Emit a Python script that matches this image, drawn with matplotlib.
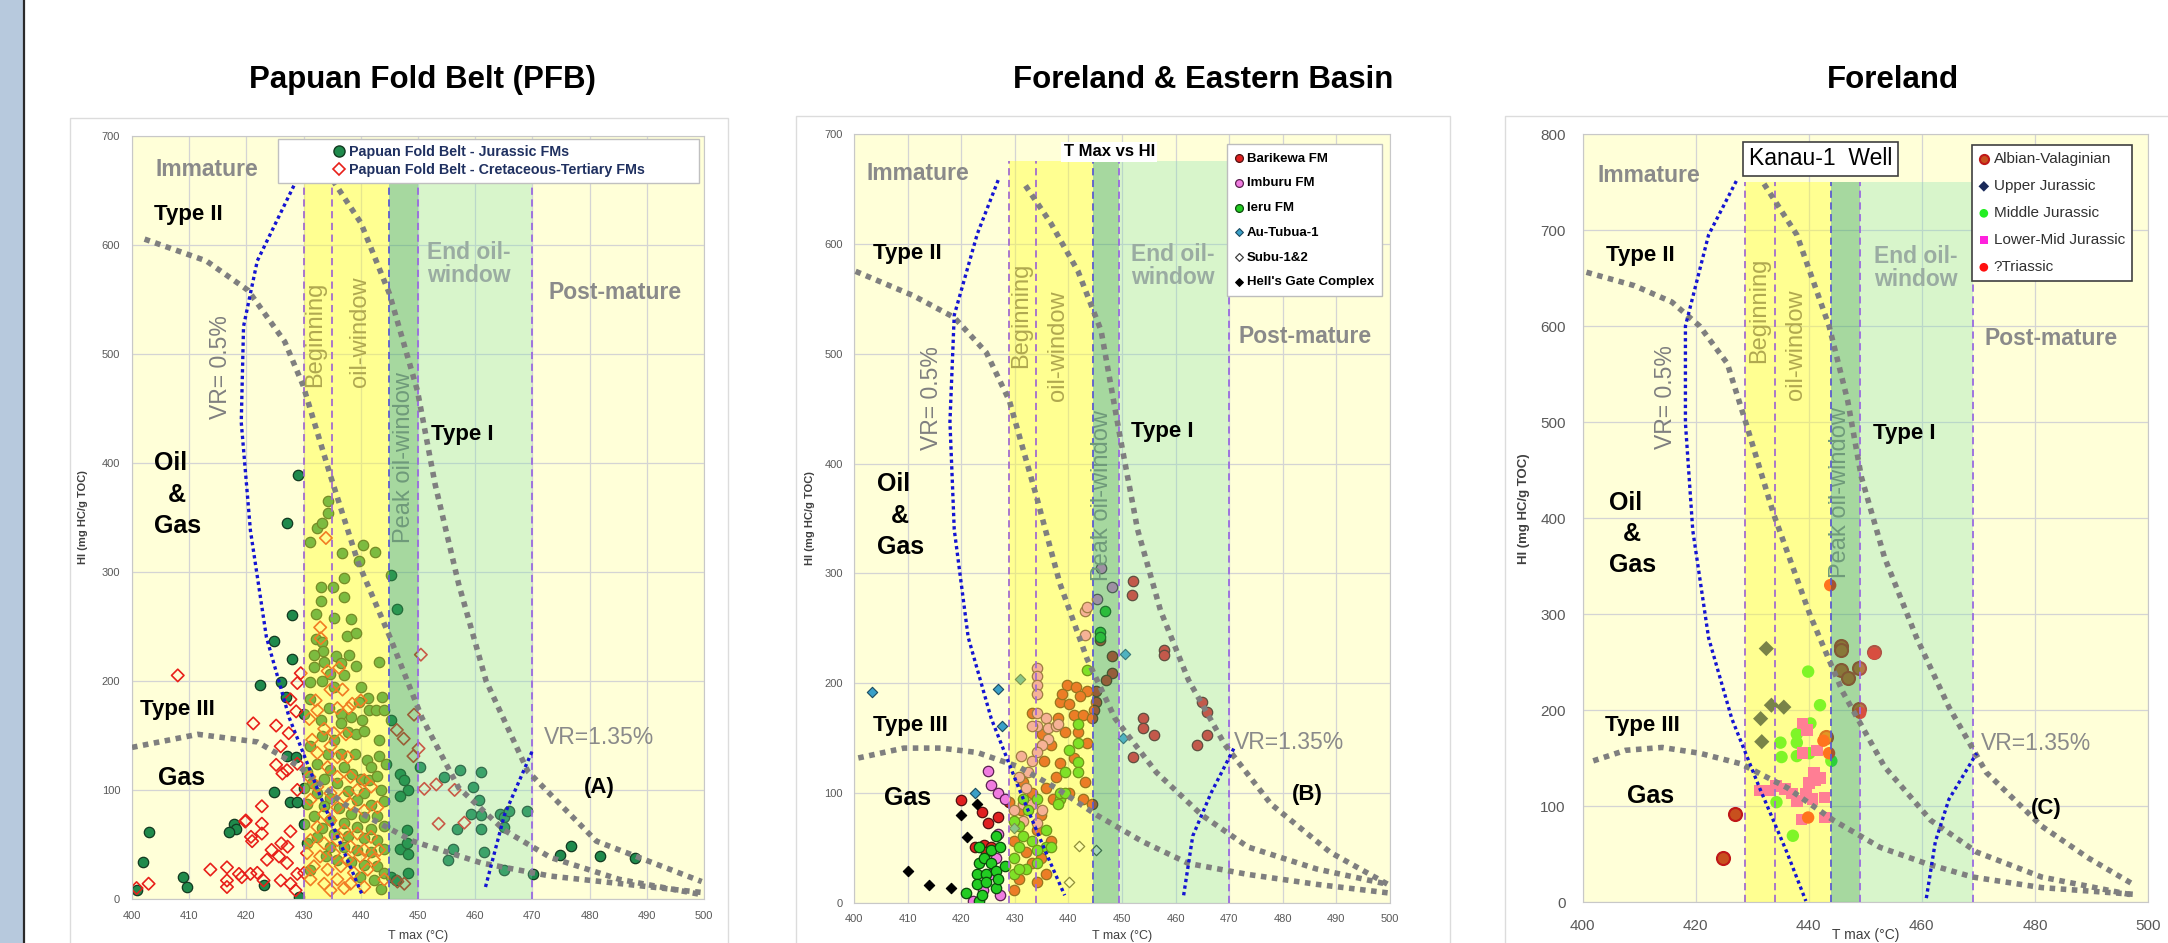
import matplotlib
matplotlib.use('Agg')
import matplotlib.pyplot as plt
from matplotlib.patches import Rectangle
from matplotlib.lines import Line2D

plt.rcParams['font.family'] = ['Liberation Sans', 'DejaVu Sans']

# ---------------- panel A : Papuan Fold Belt ----------------
a_jur = [(427.1,345),(428.0,260),(424.8,237),(427.9,220),(422.3,196),(426.1,199),(426.9,185),(427.1,131),
         (428.7,130),(424.8,98),(427.7,89),(428.9,89),(417.8,69),(418.1,64),(417.0,61),(403.0,61),(401.9,34),
         (408.9,20),(409.7,11),(400.8,8),(423.0,13),(429.2,2),(429.1,389),
         (431.1,327),(432.4,340),(433.3,345),(434.2,354),(434.2,365),(436.8,317),(440.4,325),(442.5,318),
         (439.6,310),(437.1,294),(433.0,286),(435.2,286),(433.0,273),(437.1,277),(432.2,261),(435.3,258),
         (438.2,257),(437.5,241),(439.2,244),(432.1,238),(433.3,236),(443.2,217),(438.0,224),(435.7,223),
         (433.4,227),(431.8,224),(433.5,217),(436.5,216),(439.2,214),(431.8,213),(434.7,206),(437.1,205),
         (440.0,194),(441.2,184),(443.7,185),(433.3,200),(431.2,199),(435.3,194),(439.6,181),(441.5,173),
         (442.6,173),(444.0,173),(436.5,170),(438.2,167),(434.4,175),(433.0,164),(436.6,161),(440.2,164),
         (431.2,183),(430.1,170),(437.7,153),(439.1,151),(440.6,154),(443.2,146),(435.3,146),(433.3,149),
         (431.2,140),(434.2,133),(436.5,133),(439.0,133),(441.0,127),(443.2,131),(444.4,124),(441.8,121),
         (432.4,124),(430.6,116),(434.7,118),(437.0,121),(438.5,115),(440.0,110),(441.4,109),(442.9,113),
         (433.6,110),(435.9,106),(431.5,106),(430.1,102),(437.7,99),(440.6,97),(443.5,100),(432.4,97),
         (434.7,93),(439.4,91),(441.8,86),(444.1,90),(430.6,87),(433.6,85),(436.2,83),(438.2,78),(440.6,75),
         (442.9,76),(431.8,76),(434.7,72),(437.1,70),(439.4,66),(441.8,64),(444.1,67),(430.1,69),(433.3,65),
         (435.3,60),(437.7,58),(440.6,56),(442.9,54),(432.4,57),(430.6,51),(434.7,48),(437.1,48),(439.4,45),
         (441.8,43),(444.1,46),(433.9,39),(435.9,36),(438.2,34),(440.6,31),(442.9,30),(444.1,24),(442.3,17),
         (439.9,20),(443.5,9),(431.2,27),(445.3,20),
         (445.3,297),(446.3,266),(445.3,164),(446.9,115),(447.6,109),(448.2,100),(450.4,121),(446.9,94),
         (448.1,63),(446.9,46),(448.1,51),(448.2,41),(448.2,24),(446.2,17),(454.6,112),(457.3,118),(461.1,116),
         (459.6,103),(460.7,91),(459.3,78),(461.1,77),(456.9,64),(461.1,64),(464.3,78),(465.1,75),(465.9,81),
         (465.1,66),(456.1,46),(455.2,36),(461.6,43),(465.1,27),(469.0,81),(470.1,23),(474.8,40),(476.8,49),
         (481.8,39),(488.0,38)]
a_cret = [(408.0,205),(421.2,161),(425.2,159),(428.9,198),(429.5,207),(427.7,183),(428.7,172),(427.4,152),
          (426.0,140),(425.2,123),(426.3,115),(427.1,118),(428.9,124),(428.9,100),(422.7,85),(419.8,71),
          (422.7,69),(420.8,57),(422.7,60),(427.7,62),(426.1,51),(424.4,45),(427.2,48),(423.6,36),(425.7,39),
          (427.1,33),(421.9,24),(423.0,17),(419.2,20),(416.6,11),(416.6,17),(413.7,27),(416.6,29),(402.9,14),
          (400.8,10),(427.7,14),(428.9,23),(428.6,8),(426.0,17),(418.7,23),(420.7,23),(419.9,72),(421.0,53),
          (433.0,239),(436.2,212),(436.8,192),(438.5,179),(440.0,182),(437.9,175),(434.2,209),(434.7,192),
          (432.1,182),(435.9,175),(432.4,173),(431.0,165),(433.6,156),(435.3,152),(437.4,151),(431.5,146),
          (434.7,140),(435.9,130),(432.4,134),(437.7,130),(434.2,121),(431.0,112),(435.9,112),(438.2,112),
          (440.6,109),(432.4,103),(434.7,97),(437.1,94),(439.4,100),(441.8,103),(431.2,91),(433.6,78),
          (435.9,84),(438.2,87),(440.6,81),(442.9,84),(432.4,66),(434.7,72),(437.1,63),(439.4,60),(441.8,57),
          (431.2,54),(433.6,51),(435.9,54),(438.2,48),(440.6,45),(443.2,45),(430.6,42),(432.9,39),(435.3,42),
          (437.7,36),(439.9,39),(442.3,36),(431.8,30),(434.2,27),(436.5,30),(438.8,24),(441.2,27),(431.2,18),
          (433.6,14),(435.9,18),(438.2,14),(440.6,11),(434.7,8),(437.1,10),(430.1,24),(444.1,18),(433.9,331),
          (432.9,249),
          (450.5,224),(449.3,169),(446.3,155),(447.5,147),(450.1,138),(449.2,131),(451.1,101),(453.2,105),
          (456.4,100),(453.6,69),(458.1,70),(447.6,14),(446.4,16)]
a_type2 = [(402.2,605),(413,585),(420.3,558),(426.7,511),(429.9,471),(434.7,388),(439.5,309),(445.1,240),
           (450.7,166),(457.1,102),(465.1,63),(473.2,38),(485.2,18),(499.6,4)]
a_type1 = [(435.1,659),(440,620),(445,555),(449.9,466),(453,380),(457.1,289),(461.9,200),(469.2,117),
           (481.2,53),(499.6,16)]
a_gas = [(400,139),(411.5,151),(421.9,144),(429.1,122),(437.1,87),(449.1,53),(461.1,33),(473.2,21),(499.6,6)]
a_vr05 = [(428.3,654),(421.9,585),(419.5,525),(419.1,437),(420.7,338),(423.5,240),(427.5,166),(433.1,92),
          (437.9,33),(440.3,3)]
a_vr135 = [(461.8,11),(465.1,77),(470,136)]

# ---------------- panel B : Foreland & Eastern Basin ----------------
b_bari = [(420.0,94),(423.9,83),(426.9,78),(425.0,73),(424.3,53),(425.6,51),(422.6,51),(424.7,46),
          (452.1,293),(451.9,280),(457.9,230),(457.9,226),(448.1,225),(445.9,239),(448.1,209),(447.0,203),
          (445.1,193),(445.1,183),(444.8,176),(454.0,168),(453.9,159),(455.9,153),(452.1,133),(464.9,183),
          (465.9,174),(463.9,144),(465.9,153),
          (439.7,198),(441.4,197),(438.4,183),(440.1,181),(438.0,168),(441.0,171),(442.7,171),(443.5,193),
          (436.7,144),(439.3,156),(441.8,156),(435.4,129),(438.4,127),(441.0,132),(443.1,110),(435.8,105),
          (433.3,100),(437.1,95),(440.1,100),(442.7,95),(444.4,90),(431.6,110),(431.1,85),(429.0,92),
          (434.9,80),(434.1,66),(436.7,56),(434.9,41),(433.3,36),(435.8,26),(434.1,19),(430.7,22),(429.9,12),
          (432.0,46),(429.9,56),(437.6,115),(435.0,154),(433.3,173),(438.8,190),(442.2,188),(444.4,168),
          (443.5,146)]
b_imb = [(425.0,120),(425.6,107),(426.9,100),(428.1,95),(426.9,63),(426.4,41),(427.3,7),(424.1,12),(422.2,2),
         (425.6,26),(434.1,214),(434.1,207),(434.1,198),(434.1,190),(434.1,173),(434.1,161),(433.3,161),
         (435.8,168),(436.2,159),(436.2,149),(437.6,161),(435.0,144),(434.1,137),(431.1,134),(433.3,129),
         (432.4,119),(430.7,115),(432.0,105),(429.9,85),(431.6,90),(433.3,90),(435.0,85),(431.6,75),(434.1,73),
         (438.0,163),(443.1,266),(443.5,269),(443.1,244),(445.3,277),(446.1,305),(448.2,288)]
b_ieru = [(420.9,9),(423.4,2),(423.9,7),(422.9,26),(424.7,26),(423.4,36),(424.3,41),(425.6,36),(426.4,29),
          (425.6,48),(426.4,14),(422.9,17),(424.7,19),(423.4,51),(427.3,51),(426.4,61),(428.1,34),(426.9,22),
          (429.9,41),(430.7,51),(431.6,61),(430.7,70),(429.9,75),(431.6,95),(432.4,85),(434.1,95),(433.3,56),
          (434.1,36),(432.0,31),(429.9,26),(435.8,51),(435.8,66),(438.4,95),(438.4,100),(439.3,119),(440.1,139),
          (441.8,163),(441.8,146),(441.8,128),(441.8,119),(439.3,100),(438.0,90),(434.1,48),(436.7,51),
          (430.7,31),(443.5,212),(445.9,247),(445.9,242),(446.9,266)]
b_autub = [(403.3,192),(426.9,195),(427.7,161),(422.6,100),(431.0,204),(450.6,227),(450.2,150),(429.9,68)]
b_subu = [(442.0,52),(445.1,48),(440.1,19)]
b_hell = [(410.0,29),(414.0,16),(418.1,14),(421.0,60),(420.0,80),(423.0,90)]
b_type2 = [(400.3,575),(411.0,553),(418.7,533),(424.7,501),(429.0,457),(434.1,369),(438.4,291),(443.5,222),
           (448.7,168),(456.4,119),(464.9,80),(473.5,51),(486.3,31),(499.6,17)]
b_type1 = [(432.0,653),(436.7,619),(441.8,575),(446.1,521),(449.5,428),(452.9,340),(457.2,266),(462.4,203),
           (469.2,144),(477.8,90),(488.9,46),(499.6,17)]
b_gas = [(400.8,132),(409.3,141),(416.2,141),(423.0,137),(430.7,124),(437.6,105),(445.3,80),(453.8,56),
         (462.4,36),(473.5,26),(486.3,17),(500,9)]
b_vr05 = [(426.9,658),(423.0,609),(418.7,535),(417.9,438),(418.7,340),(421.3,242),(425.6,168),(430.7,105),
          (435.8,46),(439.3,7)]
b_vr135 = [(461.5,7),(463.2,61),(466.6,100),(470.9,141)]

# ---------------- panel C : Foreland (Kanau-1) ----------------
c_albian = [(424.8,46),(427.0,92),(445.8,267),(445.8,263),(445.8,242),(446.9,233),(448.9,244),(451.6,260),
            (448.9,201),(443.0,172)]
c_upper = [(432.5,264),(433.4,205),(435.6,203),(431.5,191),(431.7,167)]
c_middle = [(439.9,240),(442.0,205),(435.0,166),(437.9,166),(437.9,175),(440.3,186),(435.2,151),(437.9,152),
            (440.1,155),(444.0,147),(434.3,104),(437.2,69)]
c_lower = [(438.9,186),(439.7,179),(438.9,155),(441.5,158),(440.9,135),(441.1,127),(442.1,129),(440.0,124),
           (432.8,116),(434.2,121),(435.8,118),(437.0,113),(437.9,105),(439.5,113),(440.7,107),(442.8,109),
           (438.7,86),(442.9,88),(431.3,116)]
c_trias = [(443.8,330),(442.6,168),(443.6,155),(439.9,88),(451.6,259),(449.1,197)]
c_type2 = [(400.7,656),(409.2,642),(415.8,625),(420.7,600),(425.6,561),(428.9,499),(433.8,404),(440.3,298),
           (446.0,219),(453.4,141),(461.6,85),(469.7,52),(481.2,26),(497.5,7)]
c_type1 = [(432.1,748),(437.9,695),(443.6,600),(446.9,522),(449.3,443),(453.4,359),(459.1,275),(464.8,203),
           (471.4,135),(481.2,79),(489.4,46),(497.5,18)]
c_gas = [(401.9,147),(407.6,158),(414.1,161),(420.7,155),(428.0,144),(436.2,119),(444.4,85),(452.6,57),
         (460.8,40),(469.0,26),(481.2,15),(497.5,8)]
c_vr05 = [(427.2,751),(422.3,695),(418.2,600),(418.2,499),(419.5,387),(422.3,275),(426.4,191),(431.3,119),
          (436.2,51),(439.5,1)]
c_vr135 = [(460.8,4),(462.4,63),(464.8,107),(469.7,155)]

titles = ['Papuan Fold Belt (PFB)', 'Foreland & Eastern Basin', 'Foreland']

W, H = 2168, 943
fig = plt.figure(figsize=(W / 100, H / 100), dpi=100)
fig.add_artist(Rectangle((0, 0), 23 / W, 1, transform=fig.transFigure, fc='#b7c9dd', ec='none'))
fig.add_artist(Line2D([23.5 / W] * 2, [0, 1], color='#2a2a2a', lw=1.6))
for x0, x1, top in [(70, 728, 118), (796, 1450, 116), (1505, 2200, 116)]:
    fig.add_artist(Rectangle((x0 / W, -0.01), (x1 - x0) / W, (H - top) / H + 0.01,
                             transform=fig.transFigure, fc='none', ec='#dcdcdc', lw=1))
for t, xc in zip(titles, [422, 1203, 1893]):
    fig.text(xc / W, 1 - 80 / H, t, ha='center', va='center', fontsize=22.5, fontweight='bold')

axA = fig.add_axes([132 / W, 44 / H, 572 / W, 763.5 / H])
axB = fig.add_axes([854 / W, 40 / H, 536 / W, 769 / H])
axC = fig.add_axes([1582.5 / W, 41 / H, 565.5 / W, 768 / H])


def xy(pts):
    return [p[0] for p in pts], [p[1] for p in pts]


def frame(ax, ymax, xstep, fs, pad):
    ax.set_facecolor('#ffffd8')
    ax.set_xlim(400, 500)
    ax.set_ylim(0, ymax)
    ax.set_xticks(range(400, 501, xstep))
    ax.set_yticks(range(0, ymax + 1, 100))
    ax.grid(True, color='#d4d4d4', lw=0.9)
    ax.set_axisbelow(True)
    for s in ax.spines.values():
        s.set_color('#c8c8c8')
    ax.tick_params(length=0, colors='#595959', labelsize=fs, pad=pad)


def zones(ax, edges, top):
    b0, b1, b2, b3, b4 = edges
    ax.fill_between([b0, b2], 0, top, color='#ffff30', alpha=0.42, lw=0, zorder=3)
    ax.fill_between([b2, b3], 0, top, color='#3aaa5a', alpha=0.45, lw=0, zorder=3)
    ax.fill_between([b3, b4], 0, top, color='#80e0b0', alpha=0.3, lw=0, zorder=3)
    cols = ['#a36ccf', '#a36ccf', '#5c5cd0', '#9a6ae0', '#9a6ae0']
    for e, c in zip(edges, cols):
        ax.plot([e, e], [0, top], color=c, ls=(0, (4, 2.5)), lw=1.3, zorder=4)


def curves(ax, t2, t1, gas, vr1, vr2):
    for c in (t2, t1, gas):
        x, y = xy(c)
        ax.plot(x, y, color='#7f7f7f', lw=4, ls=(0, (1, 1)), dash_capstyle='butt', zorder=5)
    for c in (vr1, vr2):
        x, y = xy(c)
        ax.plot(x, y, color='#1414d2', lw=2.4, ls=(0, (1, 1)), zorder=5)


def labels(ax, pos, letter):
    bold = dict(fontweight='bold', zorder=6)
    gray = '#8a8a8a'
    ax.text(*pos['imm'], 'Immature', color=gray, fontsize=16.5, va='center', **bold)
    ax.text(*pos['t2'], 'Type II', color='k', fontsize=16, va='center', **bold)
    ax.text(*pos['oil'], 'Oil', color='k', fontsize=18, va='center', **bold)
    ax.text(*pos['amp'], '&', color='k', fontsize=18, va='center', ha='center', **bold)
    ax.text(*pos['gas1'], 'Gas', color='k', fontsize=18, va='center', **bold)
    ax.text(*pos['t3'], 'Type III', color='k', fontsize=16, va='center', **bold)
    ax.text(*pos['gas2'], 'Gas', color='k', fontsize=18, va='center', **bold)
    ax.text(*pos['t1'], 'Type I', color='k', fontsize=16, va='center', **bold)
    ax.text(*pos['end'], 'End oil-\nwindow', color='#9aaca2', fontsize=16.5, va='center',
            linespacing=1.0, **bold)
    ax.text(*pos['post'], 'Post-mature', color=gray, fontsize=16.5, va='center', **bold)
    ax.text(*pos['vr1'], 'VR= 0.5%', color='#7f7f7f', fontsize=16.5, rotation=90, ha='center',
            va='center', zorder=6)
    ax.text(*pos['vr2'], 'VR=1.35%', color='#8a8a8a', fontsize=16.5, va='center', zorder=6)
    ax.text(*pos['beg'], 'Beginning', color='#b0a850', fontsize=17, rotation=90, ha='center',
            va='center', zorder=6)
    ax.text(*pos['oilw'], 'oil-window', color='#b0a850', fontsize=17, rotation=90, ha='center',
            va='center', zorder=6)
    ax.text(*pos['peak'], 'Peak oil-window', color='#6f9a7a', fontsize=17, rotation=90, ha='center',
            va='center', zorder=6)
    ax.text(*pos['let'], letter, color='k', fontsize=16, ha='center', va='center', **bold)


def ylab(ax, x, y, fs):
    ax.text(x, y, 'HI (mg HC/g TOC)', transform=ax.transAxes, rotation=90, ha='center', va='center',
            fontsize=fs, fontweight='bold', color='#404040')


def xlab(ax, y, fs):
    ax.text(0.5, y, 'T max (°C)', transform=ax.transAxes, ha='center', va='bottom', fontsize=fs,
            color='#404040')


# ---------- A ----------
frame(axA, 700, 10, 8, 8.5)
zones(axA, [430, 435, 445, 450, 470], 660)
x, y = xy(a_jur)
axA.scatter(x, y, s=56, marker='o', fc='#1f8a4c', ec='#123a20', lw=0.9, zorder=2)
x, y = xy(a_cret)
axA.scatter(x, y, s=40, marker='D', fc='none', ec='#e8201a', lw=1.2, zorder=2)
curves(axA, a_type2, a_type1, a_gas, a_vr05, a_vr135)
labels(axA, dict(imm=(404.1, 669), t2=(403.8, 628), oil=(403.8, 400), amp=(407.9, 370), gas1=(403.8, 342),
                 t3=(401.4, 174), gas2=(404.6, 111), t1=(452.3, 426), end=(451.5, 582), post=(472.8, 556),
                 vr1=(415.5, 488), vr2=(472, 148), beg=(432.1, 518), oilw=(439.9, 520), peak=(447.5, 405),
                 let=(481.7, 102)), '(A)')
axA.add_patch(Rectangle((425.6, 656), 73.6, 41, fc='white', ec='#c0c0c0', lw=1, zorder=9))
hA = [Line2D([], [], ls='none', marker='o', ms=8, mfc='#1f8a4c', mec='#123a20'),
      Line2D([], [], ls='none', marker='D', ms=6, mfc='none', mec='#e8201a', mew=1.2)]
lg = axA.legend(hA, ['Papuan Fold Belt - Jurassic FMs', 'Papuan Fold Belt - Cretaceous-Tertiary FMs'],
                loc='center', bbox_to_anchor=(0.625, 0.9668), frameon=False, handlelength=0.8,
                handletextpad=0.3, labelspacing=0.3, borderpad=0.1,
                prop=dict(size=10.3, weight='bold'))
for t in lg.get_texts():
    t.set_color('#1f3060')
lg.set_zorder(10)
ylab(axA, -0.0857, 0.5, 8)
xlab(axA, -0.0563, 9)

# ---------- B ----------
frame(axB, 700, 10, 8, 8)
zones(axB, [429, 434, 444.5, 449.5, 470], 675)
x, y = xy(b_bari)
axB.scatter(x, y, s=56, marker='o', fc='#e02020', ec='#501010', lw=0.9, zorder=2, label='Barikewa FM')
x, y = xy(b_imb)
axB.scatter(x, y, s=56, marker='o', fc='#f07ce0', ec='#5a2050', lw=0.9, zorder=2, label='Imburu FM')
x, y = xy(b_ieru)
axB.scatter(x, y, s=56, marker='o', fc='#22cc22', ec='#0a4a0a', lw=0.9, zorder=2, label='Ieru FM')
x, y = xy(b_autub)
axB.scatter(x, y, s=28, marker='D', fc='#3aa0c8', ec='#1a4a60', lw=0.8, zorder=2, label='Au-Tubua-1')
x, y = xy(b_subu)
axB.scatter(x, y, s=28, marker='D', fc='white', ec='#404040', lw=0.9, zorder=2, label='Subu-1&2')
x, y = xy(b_hell)
axB.scatter(x, y, s=28, marker='D', fc='black', ec='black', lw=0.8, zorder=2, label="Hell's Gate Complex")
curves(axB, b_type2, b_type1, b_gas, b_vr05, b_vr135)
labels(axB, dict(imm=(402.3, 664), t2=(403.6, 591), oil=(404.2, 381), amp=(408.5, 352), gas1=(404.2, 324),
                 t3=(403.6, 162), gas2=(405.6, 96), t1=(451.7, 429), end=(451.7, 580), post=(471.8, 516),
                 vr1=(414.5, 460), vr2=(470.9, 146), beg=(431.1, 535), oilw=(438.0, 507), peak=(446.3, 371),
                 let=(484.6, 99)), '(B)')
axB.text(447.6, 684, 'T Max vs HI', ha='center', va='center', fontsize=12, fontweight='bold', zorder=8,
         bbox=dict(boxstyle='square,pad=0.15', fc='white', ec='none'))
lg = axB.legend(loc='upper right', bbox_to_anchor=(0.997, 0.995), fancybox=False, edgecolor='#bdbdbd',
                framealpha=1, handlelength=0.6, handletextpad=0.25, labelspacing=0.95, borderpad=0.6,
                markerscale=0.75, prop=dict(size=9.5, weight='bold'))
lg.get_frame().set_linewidth(1.0)
lg.set_zorder(10)
ylab(axB, -0.083, 0.5, 8)
xlab(axB, -0.0507, 9)

# ---------- C ----------
frame(axC, 800, 20, 11, 12)
zones(axC, [428.7, 434, 444, 449, 469], 750)
x, y = xy(c_albian)
axC.scatter(x, y, s=88, marker='o', fc='#c8501e', ec='#c01818', lw=1.5, zorder=2, label='Albian-Valaginian')
x, y = xy(c_upper)
axC.scatter(x, y, s=60, marker='D', fc='#1a2a5a', ec='none', zorder=2, label='Upper Jurassic')
x, y = xy(c_middle)
axC.scatter(x, y, s=80, marker='o', fc='#22ee22', ec='none', zorder=2, label='Middle Jurassic')
x, y = xy(c_lower)
axC.scatter(x, y, s=70, marker='s', fc='#ff22dd', ec='none', zorder=2, label='Lower-Mid Jurassic')
x, y = xy(c_trias)
axC.scatter(x, y, s=80, marker='o', fc='#ff1010', ec='none', zorder=2, label='?Triassic')
curves(axC, c_type2, c_type1, c_gas, c_vr05, c_vr135)
labels(axC, dict(imm=(402.7, 757), t2=(404.2, 673), oil=(404.7, 416), amp=(408.8, 383), gas1=(404.7, 351),
                 t3=(403.9, 184), gas2=(407.8, 110), t1=(451.3, 488), end=(451.5, 660), post=(471, 587),
                 vr1=(414.7, 526), vr2=(470.4, 165), beg=(431.3, 616), oilw=(437.7, 580), peak=(445.6, 427),
                 let=(482, 97)), '(C)')
axC.text(442.1, 774, 'Kanau-1  Well', ha='center', va='center', fontsize=16.5, zorder=8,
         bbox=dict(boxstyle='square,pad=0.25', fc='white', ec='#404040', lw=1.2))
lg = axC.legend(loc='upper right', bbox_to_anchor=(0.985, 0.995), fancybox=False, edgecolor='#404040',
                framealpha=1, handlelength=0.6, handletextpad=0.35, labelspacing=0.85, borderpad=0.45,
                markerscale=0.7, prop=dict(size=11))
lg.get_frame().set_linewidth(1.2)
for t in lg.get_texts():
    t.set_color('#303030')
lg.set_zorder(10)
ylab(axC, -0.104, 0.512, 9.5)
xlab(axC, -0.052, 10)

fig.savefig('out.png', dpi=100, facecolor='white')
